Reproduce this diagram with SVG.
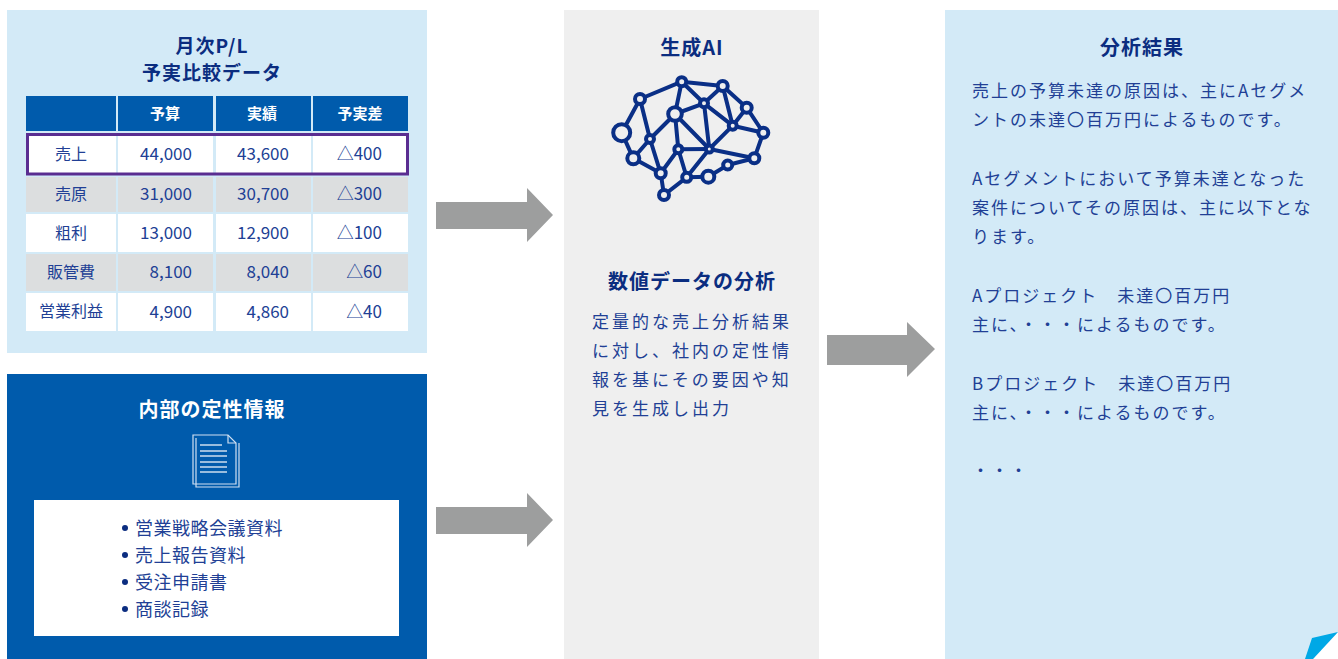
<svg xmlns="http://www.w3.org/2000/svg" width="1338" height="659" viewBox="0 0 1338 659">
  <defs>
    <style>
      .ttl { font-family: "Noto Sans CJK JP", sans-serif; font-weight: 700; font-size: 20px; fill: #0b2d80; letter-spacing: 1px; text-anchor: middle; }
      .th { font-family: "Noto Sans CJK JP", sans-serif; font-weight: 700; font-size: 15px; fill: #ffffff; text-anchor: middle; dominant-baseline: central; }
      .tl { font-family: "Noto Sans CJK JP", sans-serif; font-size: 16px; fill: #213f95; text-anchor: middle; dominant-baseline: central; }
      .tn { font-family: "Noto Sans CJK JP", sans-serif; font-size: 17px; fill: #213f95; text-anchor: end; dominant-baseline: central; }
      .body { font-family: "Noto Sans CJK JP", sans-serif; font-size: 17px; fill: #213f95; }
      .arrow { fill: #9d9e9e; }
      .net line { stroke: #0a2f86; stroke-width: 4; stroke-linecap: round; }
      .net circle { fill: #efefef; stroke: #0a2f86; stroke-width: 4; }
      .doc { fill: none; stroke: #cfe0f2; stroke-width: 1.2; }
      .docline { stroke: #ffffff; stroke-width: 1.2; }
    </style>
  </defs>

  <rect width="1338" height="659" fill="#ffffff"/>

  <!-- Monthly P/L table -->
  <g id="pl-table">
    <rect x="7" y="10" width="420" height="343" fill="#d3eaf7"/>
    <text class="ttl" x="212" y="53" style="font-size:19px">月次P/L</text>
    <text class="ttl" x="212" y="80" style="font-size:19px">予実比較データ</text>

    <!-- header -->
    <rect x="26" y="96" width="90" height="35" fill="#005bac"/>
    <rect x="118" y="96" width="95" height="35" fill="#005bac"/>
    <rect x="216" y="96" width="95" height="35" fill="#005bac"/>
    <rect x="313" y="96" width="95" height="35" fill="#005bac"/>
    <text class="th" x="165" y="112">予算</text>
    <text class="th" x="262" y="112">実績</text>
    <text class="th" x="360" y="112">予実差</text>

    <!-- rows -->
    <g fill="#ffffff">
      <rect x="26" y="134" width="90" height="40"/>
      <rect x="118" y="134" width="95" height="40"/>
      <rect x="216" y="134" width="95" height="40"/>
      <rect x="313" y="134" width="95" height="40"/>
      <rect x="26" y="214" width="90" height="38"/>
      <rect x="118" y="214" width="95" height="38"/>
      <rect x="216" y="214" width="95" height="38"/>
      <rect x="313" y="214" width="95" height="38"/>
      <rect x="26" y="293" width="90" height="38"/>
      <rect x="118" y="293" width="95" height="38"/>
      <rect x="216" y="293" width="95" height="38"/>
      <rect x="313" y="293" width="95" height="38"/>
    </g>
    <g fill="#dcdedf">
      <rect x="26" y="177" width="90" height="35"/>
      <rect x="118" y="177" width="95" height="35"/>
      <rect x="216" y="177" width="95" height="35"/>
      <rect x="313" y="177" width="95" height="35"/>
      <rect x="26" y="254" width="90" height="37"/>
      <rect x="118" y="254" width="95" height="37"/>
      <rect x="216" y="254" width="95" height="37"/>
      <rect x="313" y="254" width="95" height="37"/>
    </g>
    <!-- highlighted sales row -->
    <rect x="27.5" y="134.5" width="380" height="39.5" fill="none" stroke="#5a2d91" stroke-width="3"/>

    <text class="tl" x="71" y="152.5">売上</text>
    <text class="tn" x="192" y="152.5">44,000</text>
    <text class="tn" x="289" y="152.5">43,600</text>
    <text class="tn" x="382" y="152.5">△400</text>

    <text class="tl" x="71" y="192.5">売原</text>
    <text class="tn" x="192" y="192.5">31,000</text>
    <text class="tn" x="289" y="192.5">30,700</text>
    <text class="tn" x="382" y="192.5">△300</text>

    <text class="tl" x="71" y="231.5">粗利</text>
    <text class="tn" x="192" y="231.5">13,000</text>
    <text class="tn" x="289" y="231.5">12,900</text>
    <text class="tn" x="382" y="231.5">△100</text>

    <text class="tl" x="71" y="270.5">販管費</text>
    <text class="tn" x="192" y="270.5">8,100</text>
    <text class="tn" x="289" y="270.5">8,040</text>
    <text class="tn" x="382" y="270.5">△60</text>

    <text class="tl" x="71" y="310">営業利益</text>
    <text class="tn" x="192" y="310">4,900</text>
    <text class="tn" x="289" y="310">4,860</text>
    <text class="tn" x="382" y="310">△40</text>
  </g>

  <!-- Internal qualitative information -->
  <g id="internal-info">
    <rect x="7" y="374" width="420" height="285" fill="#005bac"/>
    <text class="ttl" x="212" y="417" style="fill:#ffffff">内部の定性情報</text>
    <!-- document icon -->
    <path class="doc" d="M196 438 V487 H239 V443"/>
    <path class="doc" d="M193 435 H228 L236 443 V484 H193 Z"/>
    <path class="doc" d="M228 435 V443 H236"/>
    <g class="docline">
      <line x1="200" y1="445" x2="222" y2="445"/>
      <line x1="200" y1="451" x2="227" y2="451"/>
      <line x1="200" y1="456" x2="227" y2="456"/>
      <line x1="200" y1="462" x2="227" y2="462"/>
      <line x1="200" y1="467" x2="227" y2="467"/>
      <line x1="200" y1="472" x2="227" y2="472"/>
    </g>
    <rect x="34" y="500" width="365" height="136" fill="#ffffff"/>
    <g fill="#0b2d80">
      <circle cx="125" cy="528" r="3"/>
      <circle cx="125" cy="555" r="3"/>
      <circle cx="125" cy="582" r="3"/>
      <circle cx="125" cy="609" r="3"/>
    </g>
    <g class="body" style="font-size:18px;letter-spacing:0.5px">
      <text x="135" y="535">営業戦略会議資料</text>
      <text x="135" y="562">売上報告資料</text>
      <text x="135" y="589">受注申請書</text>
      <text x="135" y="616">商談記録</text>
    </g>
  </g>

  <!-- Generative AI -->
  <g id="gen-ai">
    <rect x="564" y="10" width="255" height="649" fill="#efefef"/>
    <text class="ttl" x="692" y="55">生成AI</text>
    <g class="net">
      <line x1="640" y1="99" x2="681.7" y2="81.7"/>
      <line x1="681.7" y1="81.7" x2="722.7" y2="86"/>
      <line x1="722.7" y1="86" x2="746.7" y2="107.7"/>
      <line x1="640" y1="99" x2="621.7" y2="132.7"/>
      <line x1="640" y1="99" x2="650" y2="139"/>
      <line x1="681.7" y1="81.7" x2="675" y2="114"/>
      <line x1="681.7" y1="81.7" x2="704" y2="103.3"/>
      <line x1="675" y1="114" x2="704" y2="103.3"/>
      <line x1="722.7" y1="86" x2="704" y2="103.3"/>
      <line x1="722.7" y1="86" x2="732.7" y2="125.7"/>
      <line x1="746.7" y1="107.7" x2="732.7" y2="125.7"/>
      <line x1="746.7" y1="107.7" x2="763.3" y2="132.7"/>
      <line x1="704" y1="103.3" x2="709.3" y2="149"/>
      <line x1="704" y1="103.3" x2="732.7" y2="125.7"/>
      <line x1="675" y1="114" x2="650" y2="139"/>
      <line x1="675" y1="114" x2="678.3" y2="149.3"/>
      <line x1="675" y1="114" x2="709.3" y2="149"/>
      <line x1="732.7" y1="125.7" x2="763.3" y2="132.7"/>
      <line x1="732.7" y1="125.7" x2="709.3" y2="149"/>
      <line x1="763.3" y1="132.7" x2="754.3" y2="158.3"/>
      <line x1="621.7" y1="132.7" x2="633.3" y2="158.3"/>
      <line x1="650" y1="139" x2="633.3" y2="158.3"/>
      <line x1="650" y1="139" x2="660.7" y2="173.3"/>
      <line x1="633.3" y1="158.3" x2="660.7" y2="173.3"/>
      <line x1="678.3" y1="149.3" x2="709.3" y2="149"/>
      <line x1="709.3" y1="149" x2="754.3" y2="158.3"/>
      <line x1="678.3" y1="149.3" x2="686.7" y2="177.3"/>
      <line x1="678.3" y1="149.3" x2="660.7" y2="173.3"/>
      <line x1="709.3" y1="149" x2="686.7" y2="177.3"/>
      <line x1="660.7" y1="173.3" x2="664" y2="195"/>
      <line x1="664" y1="195" x2="686.7" y2="177.3"/>
      <line x1="686.7" y1="177.3" x2="708.3" y2="176.7"/>
      <line x1="708.3" y1="176.7" x2="727.7" y2="165"/>
      <line x1="727.7" y1="165" x2="754.3" y2="158.3"/>
      <circle cx="681.7" cy="81.7" r="4.5"/>
      <circle cx="722.7" cy="86" r="5"/>
      <circle cx="640" cy="99" r="5"/>
      <circle cx="746.7" cy="107.7" r="5"/>
      <circle cx="675" cy="114" r="6.8"/>
      <circle cx="704" cy="103.3" r="4"/>
      <circle cx="621.7" cy="132.7" r="8.5"/>
      <circle cx="732.7" cy="125.7" r="4"/>
      <circle cx="763.3" cy="132.7" r="5"/>
      <circle cx="650" cy="139" r="4"/>
      <circle cx="678.3" cy="149.3" r="4"/>
      <circle cx="709.3" cy="149" r="3.5"/>
      <circle cx="633.3" cy="158.3" r="6"/>
      <circle cx="754.3" cy="158.3" r="5"/>
      <circle cx="727.7" cy="165" r="4.5"/>
      <circle cx="660.7" cy="173.3" r="5"/>
      <circle cx="686.7" cy="177.3" r="4.5"/>
      <circle cx="708.3" cy="176.7" r="6"/>
      <circle cx="664" cy="195" r="5"/>
    </g>
    <text class="ttl" x="692" y="289">数値データの分析</text>
    <g class="body" style="letter-spacing:3px">
      <text x="592" y="328">定量的な売上分析結果</text>
      <text x="592" y="357">に対し、社内の定性情</text>
      <text x="592" y="386">報を基にその要因や知</text>
      <text x="592" y="415">見を生成し出力</text>
    </g>
  </g>

  <!-- Analysis result -->
  <g id="result">
    <rect x="945" y="10" width="393" height="649" fill="#d3eaf7"/>
    <text class="ttl" x="1142" y="55">分析結果</text>
    <g class="body" style="letter-spacing:2px">
      <text x="972" y="97">売上の予算未達の原因は、主にAセグメ</text>
      <text x="972" y="126">ントの未達〇百万円によるものです。</text>
      <text x="972" y="185">Aセグメントにおいて予算未達となった</text>
      <text x="972" y="214">案件についてその原因は、主に以下とな</text>
      <text x="972" y="243">ります。</text>
      <text x="972" y="302">Aプロジェクト　未達〇百万円</text>
      <text x="972" y="331">主に、・・・によるものです。</text>
      <text x="972" y="390">Bプロジェクト　未達〇百万円</text>
      <text x="972" y="419">主に、・・・によるものです。</text>
      <text x="972" y="477">・・・</text>
    </g>
    <!-- folded corner -->
    <polygon points="1338,632 1338,659 1313,659" fill="#ffffff"/>
    <polygon points="1312,638 1338,632 1313,659 1305,659" fill="#00a8e6"/>
  </g>

  <!-- Flow arrows -->
  <g id="connectors">
    <polygon class="arrow" points="436,202 527,202 527,188 553,215 527,242 527,229 436,229"/>
    <polygon class="arrow" points="436,507 527,507 527,493 553,520 527,547 527,534 436,534"/>
    <polygon class="arrow" points="827,335 907,335 907,322 935,349 907,377 907,365 827,365"/>
  </g>
</svg>
